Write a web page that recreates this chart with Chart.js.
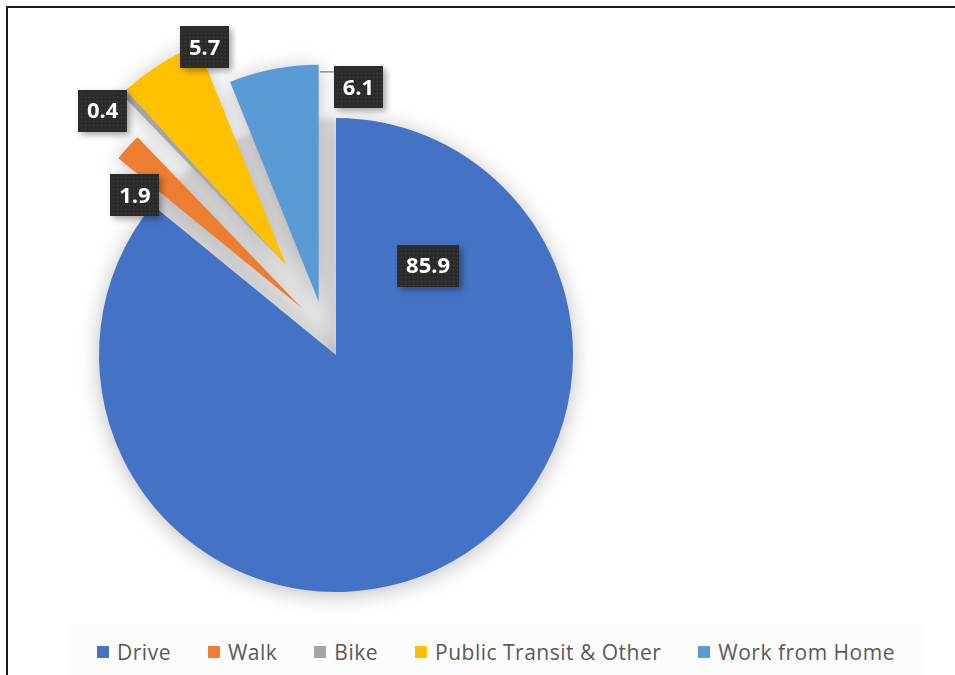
<!DOCTYPE html>
<html>
<head>
<meta charset="utf-8">
<title>Commute mode share</title>
<script src="https://cdn.jsdelivr.net/npm/chart.js@4.4.1/dist/chart.umd.min.js"></script>
<style>
  html, body { margin: 0; padding: 0; background: #fff; }
  #wrap { position: relative; width: 955px; height: 675px; overflow: hidden; }
  #frame {
    position: absolute; left: 6px; top: 6px; width: 1000px; height: 700px;
    border-left: 2px solid #1a1a1a; border-top: 2px solid #1a1a1a;
  }
  #chart { position: absolute; left: 0; top: 0; }
  #legend {
    position: absolute; left: 68px; top: 624px; width: 856px; height: 56px;
    background: #fcfcfc;
    display: flex; justify-content: center; align-items: center; gap: 37px;
    font-family: "Open Sans", sans-serif; font-size: 21px; letter-spacing: 0.5px; color: #595959;
  }
  #legend .item { display: flex; align-items: center; white-space: nowrap; }
  #legend .sw { width: 12px; height: 12px; margin-right: 8px; }
</style>
</head>
<body>
<div id="wrap">
  <div id="frame"></div>
  <canvas id="chart" width="955" height="675"></canvas>
  <div id="legend"></div>
</div>

<script>
// ====== DATA ======
const categories = ["Drive", "Walk", "Bike", "Public Transit & Other", "Work from Home"];
const shares = [85.9, 1.9, 0.4, 5.7, 6.1];

// ====== STYLE ======
const sliceColors = ["#4472C4", "#ED7D31", "#A5A5A5", "#FFC000", "#5B9BD5"];
const explodeBy = [0, 58, 103, 103, 56];          // px each slice is pulled out
const explodeDir = [0, 324, 331, 331, 342];       // deg clockwise from 12 o'clock
const labelAngle = [46, 304, 310, 339.5, 10.5];   // deg clockwise from 12 o'clock
const labelDist = [0.54, 0.85, 1.01, 0.98, 0.92]; // fraction of radius
const labelLeader = [false, false, false, false, true];

// dark dotted fill for the value boxes
const dots = document.createElement("canvas");
dots.width = 4; dots.height = 4;
const dctx = dots.getContext("2d");
dctx.fillStyle = "#2b2b2b";
dctx.fillRect(0, 0, 4, 4);
dctx.fillStyle = "#474747";
dctx.fillRect(1, 1, 1, 1);

function sliceShift(i) {
  const a = explodeDir[i] * Math.PI / 180;
  return { dx: Math.sin(a) * explodeBy[i], dy: -Math.cos(a) * explodeBy[i] };
}

// draw the slices pulled out from the centre, with a soft shadow under them
const explodedPie = {
  id: "explodedPie",
  beforeDatasetDraw(chart, args) {
    const ctx = chart.ctx;
    const arcs = args.meta.data;

    // grey shadow left where the pulled-out slices used to sit
    const moved = arcs.filter((a, i) => explodeBy[i] > 0);
    if (moved.length) {
      const c = arcs[0];
      ctx.save();
      ctx.filter = "blur(3px)";
      ctx.fillStyle = "#e4e4e4";
      ctx.beginPath();
      ctx.moveTo(c.x, c.y);
      ctx.arc(c.x, c.y, c.outerRadius, moved[0].startAngle, moved[moved.length - 1].endAngle);
      ctx.closePath();
      ctx.fill();
      ctx.restore();
    }

    // shadow pass: shapes are drawn off-canvas, only the shadow lands
    ctx.save();
    ctx.shadowColor = "rgba(0,0,0,0.26)";
    ctx.shadowBlur = 22;
    ctx.shadowOffsetX = 5000;
    ctx.shadowOffsetY = 3;
    arcs.forEach((arc, i) => {
      const s = sliceShift(i);
      ctx.save();
      ctx.translate(s.dx - 5000, s.dy);
      arc.draw(ctx);
      ctx.restore();
    });
    ctx.restore();

    arcs.forEach((arc, i) => {
      const s = sliceShift(i);
      ctx.save();
      ctx.translate(s.dx, s.dy);
      arc.draw(ctx);
      ctx.restore();
    });
    return false;
  },
  afterDatasetsDraw(chart) {
    const ctx = chart.ctx;
    const arcs = chart.getDatasetMeta(0).data;
    const pattern = ctx.createPattern(dots, "repeat");
    ctx.save();
    ctx.font = "bold 22px 'Open Sans', sans-serif";
    ctx.textAlign = "center";
    ctx.textBaseline = "middle";
    arcs.forEach((arc, i) => {
      const s = sliceShift(i);
      const cx = arc.x + s.dx, cy = arc.y + s.dy;
      const a = (labelAngle[i] - 90) * Math.PI / 180;
      const r = arc.outerRadius * labelDist[i];
      const x = cx + Math.cos(a) * r;
      const y = cy + Math.sin(a) * r;
      const text = shares[i].toFixed(1);
      const w = ctx.measureText(text).width + 18;
      const h = 42;

      if (labelLeader[i]) {
        const edgeY = cy - arc.outerRadius * 0.97;
        ctx.strokeStyle = "#8c8c8c";
        ctx.lineWidth = 1.5;
        ctx.beginPath();
        ctx.moveTo(cx + 1, edgeY);
        ctx.lineTo(x - w / 2, edgeY);
        ctx.stroke();
      }

      ctx.save();
      ctx.shadowColor = "rgba(0,0,0,0.35)";
      ctx.shadowBlur = 6;
      ctx.shadowOffsetX = 3;
      ctx.shadowOffsetY = 3;
      ctx.fillStyle = pattern;
      ctx.fillRect(Math.round(x - w / 2), Math.round(y - h / 2), Math.round(w), h);
      ctx.restore();

      ctx.fillStyle = "#ffffff";
      ctx.fillText(text, x, y + 1);
    });
    ctx.restore();
  }
};

const chart = new Chart(document.getElementById("chart"), {
  type: "pie",
  data: {
    labels: categories,
    datasets: [{
      data: shares,
      backgroundColor: sliceColors,
      borderWidth: 0,
      offset: 0,
      hoverOffset: 0
    }]
  },
  options: {
    responsive: false,
    animation: false,
    radius: 237,
    layout: { padding: { left: 0, right: 283, top: 35, bottom: 0 } },
    plugins: {
      legend: { display: false },
      tooltip: { enabled: false }
    }
  },
  plugins: [explodedPie]
});

// ====== LEGEND ======
const legendBox = document.getElementById("legend");
chart.options.plugins.legend.labels.generateLabels(chart).forEach(item => {
  const el = document.createElement("div");
  el.className = "item";
  el.innerHTML = `<span class="sw" style="background:${item.fillStyle}"></span>${item.text}`;
  legendBox.appendChild(el);
});
</script>
</body>
</html>
